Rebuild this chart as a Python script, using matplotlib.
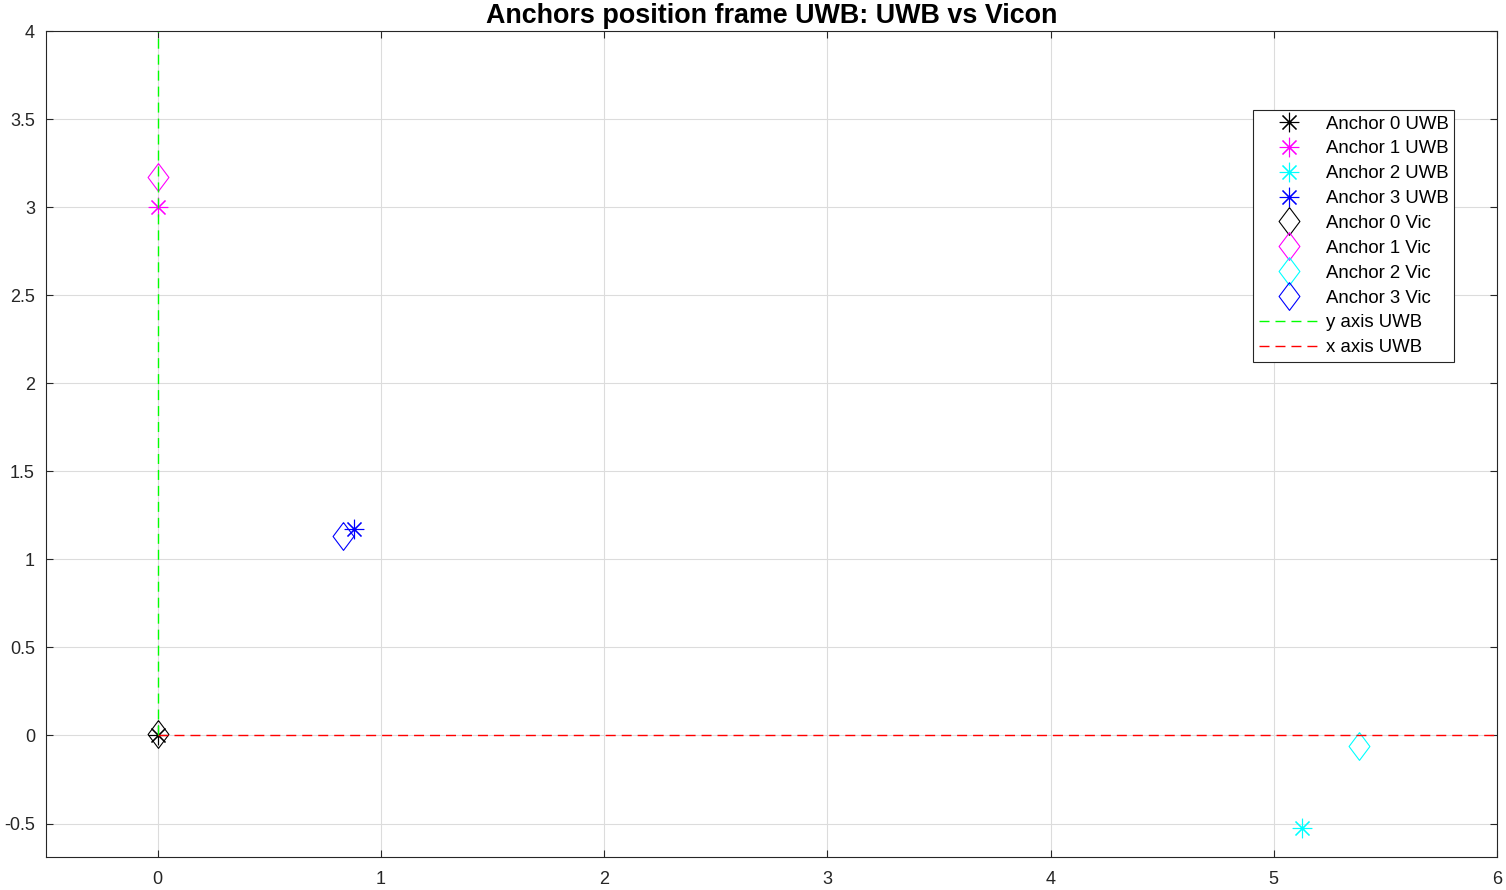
import numpy as np
import matplotlib.pyplot as plt

plt.rcParams['font.family'] = ['Liberation Sans', 'DejaVu Sans']

# anchor positions
uwb_x = [0.0, 0.0, 5.127, 0.878]
uwb_y = [0.0, 3.0, -0.523, 1.17]
vic_x = [0.0, 0.0, 5.383, 0.829]
vic_y = [0.01, 3.17, -0.057, 1.13]
colors = [(0, 0, 0), (1, 0, 1), (0, 1, 1), (0, 0, 1)]
labels = ['0', '1', '2', '3']

xticks = [0, 1, 2, 3, 4, 5, 6]
yticks = [-0.5, 0, 0.5, 1, 1.5, 2, 2.5, 3, 3.5, 4]
ytick_labels = ['-0.5', '0', '0.5', '1', '1.5', '2', '2.5', '3', '3.5', '4']

fig = plt.figure(figsize=(15.06, 8.9), dpi=100)
ax = fig.add_axes([46/1506, 33/890, 1451/1506, 826/890])

diamond = [(0, 1), (0.75, 0), (0, -1), (-0.75, 0), (0, 1)]

for i in range(4):
    ax.plot(uwb_x[i], uwb_y[i], linestyle='none', marker=(8, 2, 0), color=colors[i],
            markersize=14, markeredgewidth=0.8, label='Anchor %s UWB' % labels[i])
for i in range(4):
    ax.plot(vic_x[i], vic_y[i], linestyle='none', marker=diamond, color=colors[i],
            markerfacecolor='none', markersize=20, markeredgewidth=0.8,
            label='Anchor %s Vic' % labels[i])

ax.plot([0, 0], [0, 4], color=(0, 1, 0), linewidth=1.0, dashes=(7.2, 4.3), label='y axis UWB')
ax.plot([0, 6], [0, 0], color=(1, 0, 0), linewidth=1.0, dashes=(7.2, 4.3), label='x axis UWB')

ax.set_xlim(-0.5, 6)
ax.set_ylim(-0.69, 4)
ax.set_xticks(xticks)
ax.set_yticks(yticks)
ax.set_yticklabels(ytick_labels)
ax.grid(True, color='#dcdcdc', linewidth=0.8)
ax.set_axisbelow(True)
ax.tick_params(direction='in', length=5, top=True, right=True, labelsize=13,
               colors='#262626', width=0.8)
ax.tick_params(axis='x', pad=10)
ax.tick_params(axis='y', pad=8)
for s in ax.spines.values():
    s.set_color('#262626')
    s.set_linewidth(0.8)

ax.set_title('Anchors position frame UWB: UWB vs Vicon', fontsize=19.4, fontweight='bold', pad=6)

leg = ax.legend(loc='upper right', bbox_to_anchor=(1454/1506, 1 - 110/890),
                bbox_transform=fig.transFigure, fontsize=13.4, fancybox=False,
                framealpha=1, edgecolor='#262626', handlelength=3.3,
                labelspacing=0.42, borderpad=0.3, handletextpad=0.3,
                borderaxespad=0)
leg.get_frame().set_linewidth(0.8)

fig.savefig('out.png', dpi=100)
